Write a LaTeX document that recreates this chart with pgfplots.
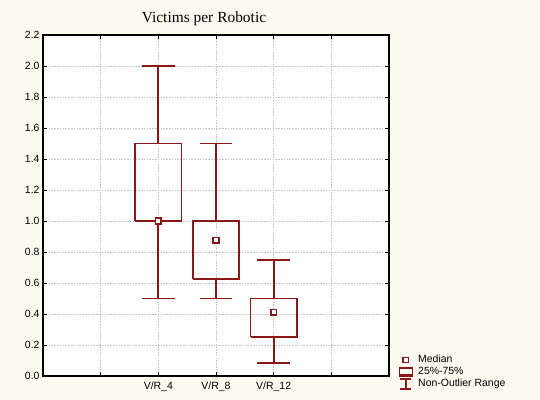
\documentclass[border=0pt]{standalone}
\usepackage{fontspec}
\setmainfont{Liberation Sans}
\newfontfamily\titlefont{Liberation Serif}
\usepackage{pgfplots}
\pgfplotsset{compat=1.18}
\definecolor{dred}{RGB}{140,22,22}
\definecolor{cream}{RGB}{253,250,240}
\begin{document}
\begin{tikzpicture}
\path[use as bounding box, fill=cream] (-43bp,-24bp) rectangle (497bp,376bp);
\begin{axis}[
  scale only axis,
  width=346bp, height=341bp,
  xmin=0, xmax=6, ymin=0, ymax=2.2,
  xtick={0,1,2,3,4,5,6},
  xticklabels={,,V/R\_4,V/R\_8,V/R\_12,,},
  ytick={0,0.2,...,2.21},
  yticklabel style={/pgf/number format/.cd, fixed, fixed zerofill, precision=1},
  /pgf/number format/assume math mode=true,
  ticklabel style={font=\fontsize{10.5}{12}\selectfont},
  xticklabel style={yshift=-2bp},
  grid=major,
  major grid style={gray!45, line width=0.6bp, dash pattern=on 1.6bp off 1.2bp},
  axis line style={black, line width=1.5bp},
  tick align=inside,
  major tick length=4bp,
  tick style={black, line width=0.8bp},
  axis background/.style={fill=white},
  unbounded coords=jump,
  legend style={at={(axis description cs:1,0)}, anchor=south west, xshift=9bp, yshift=-14bp,
    draw=none, fill=none, inner sep=0pt, row sep=0.5bp,
    font=\fontsize{10.5}{12}\selectfont,
    nodes={inner sep=0.5bp, text height=8bp, text depth=2.5bp},
    /tikz/every odd column/.append style={column sep=4bp}},
  legend cell align=left,
]
\addlegendimage{legend image code/.code={\draw[dred, line width=1.6bp, fill=white] (4.3bp,-2.6bp) rectangle (9.5bp,2.6bp);}}
\addlegendentry{Median}
\addlegendimage{legend image code/.code={\draw[dred, line width=1.5bp] (0.5bp,-3bp) rectangle (13.5bp,4bp); \draw[dred, line width=1.5bp] (0bp,-4.5bp) -- (14bp,-4.5bp);}}
\addlegendentry{25\%-75\%}
\addlegendimage{legend image code/.code={\draw[dred, line width=1.5bp] (1.5bp,-5bp) -- (12.5bp,-5bp) (7bp,-5bp) -- (7bp,5bp) (1.5bp,5bp) -- (12.5bp,5bp);}}
\addlegendentry{Non-Outlier Range}

% V/R_4: min 0.5, Q1 1.0, median 1.0, Q3 1.5, max 2.0
\addplot[forget plot, dred, line width=1.7bp, line join=miter, mark=none]
  coordinates {(1.6,1.0) (2.4,1.0) (2.4,1.5) (1.6,1.5) (1.6,1.0)};
\addplot[forget plot, dred, line width=1.7bp, mark=none]
  coordinates {(2,1.5) (2,2.0) (nan,nan) (1.715,2.0) (2.285,2.0) (nan,nan)
               (2,1.0) (2,0.5) (nan,nan) (1.715,0.5) (2.285,0.5)};
% V/R_8: min 0.5, Q1 0.625, median 0.875, Q3 1.0, max 1.5
\addplot[forget plot, dred, line width=1.7bp, line join=miter, mark=none]
  coordinates {(2.6,0.625) (3.4,0.625) (3.4,1.0) (2.6,1.0) (2.6,0.625)};
\addplot[forget plot, dred, line width=1.7bp, mark=none]
  coordinates {(3,1.0) (3,1.5) (nan,nan) (2.715,1.5) (3.285,1.5) (nan,nan)
               (3,0.625) (3,0.5) (nan,nan) (2.715,0.5) (3.285,0.5)};
% V/R_12: min 0.083, Q1 0.25, median 0.41, Q3 0.5, max 0.75
\addplot[forget plot, dred, line width=1.7bp, line join=miter, mark=none]
  coordinates {(3.6,0.25) (4.4,0.25) (4.4,0.5) (3.6,0.5) (3.6,0.25)};
\addplot[forget plot, dred, line width=1.7bp, mark=none]
  coordinates {(4,0.5) (4,0.75) (nan,nan) (3.715,0.75) (4.285,0.75) (nan,nan)
               (4,0.25) (4,0.083) (nan,nan) (3.715,0.083) (4.285,0.083)};
% medians
\addplot[forget plot, only marks, mark=square*, mark size=2.8bp, dred, line width=1.6bp,
  mark options={fill=white}]
  coordinates {(2,1.0) (3,0.875) (4,0.41)};
\end{axis}
\node[font=\titlefont\fontsize{15.5}{18}\selectfont, anchor=base] at (161bp,353bp) {Victims per Robotic};
\end{tikzpicture}
\end{document}
